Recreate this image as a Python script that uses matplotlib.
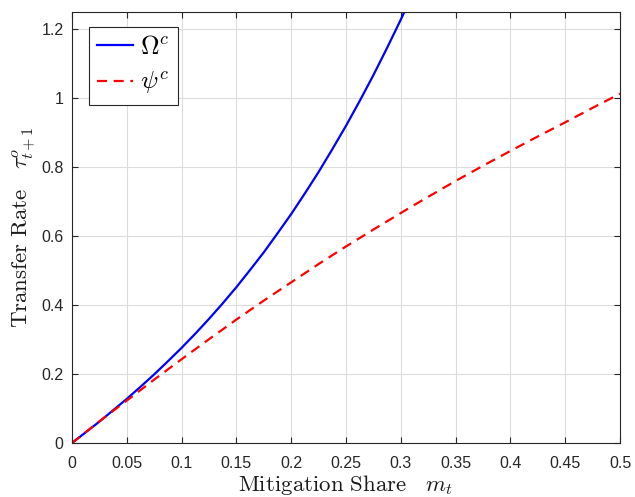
import matplotlib
matplotlib.use('Agg')
import matplotlib.pyplot as plt
import numpy as np

# valores
mitigacao = [0.0, 0.025, 0.05, 0.075, 0.1, 0.125, 0.15, 0.175, 0.2, 0.225,
             0.25, 0.275, 0.3, 0.31, 0.325, 0.35, 0.375, 0.4, 0.425, 0.45,
             0.475, 0.5]
psi_c = [0.0, 0.063, 0.123, 0.184, 0.243, 0.301, 0.358, 0.413, 0.466, 0.519,
         0.570, 0.619, 0.667, 0.686, 0.714, 0.760, 0.804, 0.847, 0.889, 0.930,
         0.972, 1.013]

# curva azul lida com passo mais fino
mitigacao_omega = [0.0, 0.0125, 0.025, 0.0375, 0.05, 0.0625, 0.075, 0.0875,
                   0.1, 0.1125, 0.125, 0.1375, 0.15, 0.1625, 0.175, 0.1875,
                   0.2, 0.2125, 0.225, 0.2375, 0.25, 0.2625, 0.275, 0.2875,
                   0.3, 0.31]
omega_c = [0.0, 0.031, 0.062, 0.095, 0.128, 0.163, 0.199, 0.237,
           0.276, 0.317, 0.360, 0.405, 0.452, 0.502, 0.553, 0.608,
           0.664, 0.724, 0.786, 0.852, 0.920, 0.992, 1.067, 1.146,
           1.228, 1.296]

xticks = [0, 0.05, 0.1, 0.15, 0.2, 0.25, 0.3, 0.35, 0.4, 0.45, 0.5]
yticks = [0, 0.2, 0.4, 0.6, 0.8, 1.0, 1.2]

plt.rcParams['mathtext.fontset'] = 'cm'
plt.rcParams['font.family'] = ['Liberation Sans', 'DejaVu Sans']

fig = plt.figure(figsize=(6.35, 4.97), dpi=100)
ax = fig.add_axes([72/635, 1-443/497, 548/635, 431/497])

ax.plot(mitigacao_omega, omega_c, color=(0, 0, 1), lw=1.6,
        label=r'$\Omega^c$')
ax.plot(mitigacao, psi_c, color=(1, 0, 0), lw=1.6, dashes=(4.5, 3),
        label=r'$\psi^c$')

ax.set_xlim(0, 0.5)
ax.set_ylim(0, 1.25)
ax.set_xticks(xticks)
ax.set_yticks(yticks)
ax.set_xticklabels(['%g' % v for v in xticks])
ax.set_yticklabels(['%g' % v for v in yticks])

ax.grid(True, color='#dcdcdc', lw=0.8)
ax.set_axisbelow(True)
ax.tick_params(direction='in', length=4, width=0.8, top=True, right=True,
               labelsize=11.5, colors='#262626')
ax.tick_params(axis='x', pad=9)
ax.tick_params(axis='y', pad=6)
for s in ax.spines.values():
    s.set_color('#262626')
    s.set_linewidth(0.8)

ax.set_xlabel(r'$\mathrm{Mitigation\ Share}\quad m_t$', fontsize=16.5,
              va='center', color='#1a1a1a')
ax.xaxis.set_label_coords(0.5, -0.097)
ax.set_ylabel(r'$\mathrm{Transfer\ Rate}\quad \tau^o_{t+1}$', fontsize=16.5,
              va='center', color='#1a1a1a')
ax.yaxis.set_label_coords(-0.0876, 0.5)

leg = ax.legend(loc='upper left', bbox_to_anchor=(17/548, 1-15/431),
                borderaxespad=0, fontsize=18.5, handlelength=1.4,
                handletextpad=0.3, labelspacing=0.45, borderpad=0.3,
                fancybox=False, framealpha=1, edgecolor='#262626')
leg.get_frame().set_linewidth(0.8)

fig.savefig('out.png', dpi=100)
